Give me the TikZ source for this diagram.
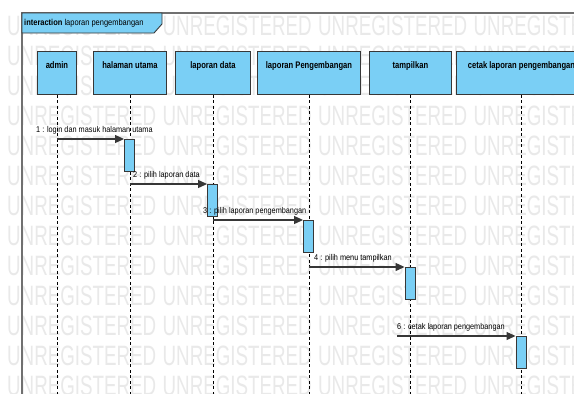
\documentclass[tikz,border=0pt]{standalone}
\usepackage{fontspec}
\setmainfont{Liberation Sans}[FakeStretch=0.87]
\newfontfamily\boxfont{Liberation Sans}[FakeStretch=0.8]
\newfontfamily\wmfont{Liberation Sans}[FakeStretch=0.67]
\usetikzlibrary{arrows.meta}
\definecolor{lifeblue}{RGB}{122,207,245}
\definecolor{framegray}{RGB}{112,112,112}
\definecolor{wmgray}{RGB}{233,233,233}
\definecolor{edge}{RGB}{55,55,55}
\tikzset{
  wm/.style={inner sep=0pt, anchor=base west, text=wmgray, font=\wmfont\fontsize{28}{28}\selectfont},
  lifebox/.style={draw=edge, line width=0.9pt, fill=lifeblue, anchor=north west,
    inner xsep=2pt, inner ysep=10pt, text height=7pt, text depth=16pt,
    font=\boxfont\fontsize{9.5}{10}\selectfont\bfseries},
  lifeline/.style={draw=black, line width=0.7pt, dash pattern=on 3pt off 2.5pt},
  actbox/.style={draw=edge, line width=0.9pt, fill=lifeblue, anchor=north,
    minimum width=10pt, minimum height=32pt, inner sep=0pt},
  msg/.style={draw=edge, line width=1.1pt, -{Triangle[length=9pt,width=8pt]}},
  msglbl/.style={inner sep=0pt, anchor=base west, font=\fontsize{8.4}{9}\selectfont},
}
\begin{document}
\begin{tikzpicture}[x=1pt,y=-1pt]
\clip (0,0) rectangle (574,394);
\fill[white] (0,0) rectangle (574,394);

% watermark rows
\foreach \r in {0,...,12}
  \foreach \c in {0,...,3}
    \node[wm] (wm-\r-\c) at ({7+155.5*\c},{35+30*\r}) {UNREGISTERED};

% interaction frame
\draw[framegray, line width=1.2pt] (22,394) -- (22,13) -- (574,13);
\draw[draw=edge, line width=0.9pt, fill=lifeblue]
  (22,13) -- (162,13) -- (162,24) -- (154,33) -- (22,33) -- cycle;
\node[anchor=west, inner sep=0pt, font=\fontsize{8.6}{9}\selectfont] (title) at (24,23)
  {\textbf{interaction} laporan pengembangan};

% lifelines
\node[lifebox, minimum width=39pt]  (admin)   at (37,51)  {admin};
\node[lifebox, minimum width=73pt]  (halaman) at (93,51)  {halaman utama};
\node[lifebox, minimum width=75pt]  (data)    at (175,51) {laporan data};
\node[lifebox, minimum width=103pt] (pengemb) at (257,51) {laporan Pengembangan};
\node[lifebox, minimum width=82pt]  (tampil)  at (369,51) {tampilkan};
\node[lifebox, minimum width=130pt] (cetak)   at (456,51) {cetak laporan pengembangan};

\coordinate (bot) at (0,394);
\foreach \n in {admin,halaman,data,pengemb,tampil,cetak}
  \draw[lifeline] (\n.south) -- (\n.south |- bot);

% activations
\node[actbox] (act1) at (129.5,139) {};
\node[actbox] (act2) at (212.5,184) {};
\node[actbox] (act3) at (308.5,220) {};
\node[actbox] (act4) at (410,267)   {};
\node[actbox] (act5) at (521,336)   {};

% messages
\draw[msg] (admin.south |- act1.north) -- (act1.north west);
\draw[msg] (halaman.south |- act2.north) -- (act2.north west);
\draw[msg] (data.south |- act3.north) -- (act3.north west);
\draw[msg] (pengemb.south |- act4.north) -- (act4.north west);
\coordinate (src6) at (397,336);
\draw[msg] (src6) -- (act5.north west);

\node[msglbl] (lbl1) at (36,132.5)  {1 : login dan masuk halaman utama};
\node[msglbl] (lbl2) at (133,177.5) {2 : pilih laporan data};
\node[msglbl] (lbl3) at (203,213.5) {3 : pilih laporan pengembangan};
\node[msglbl] (lbl4) at (314,260.5) {4 : pilih menu tampilkan};
\node[msglbl] (lbl6) at (397,329.5) {6 : cetak laporan pengembangan};
\end{tikzpicture}
\end{document}
